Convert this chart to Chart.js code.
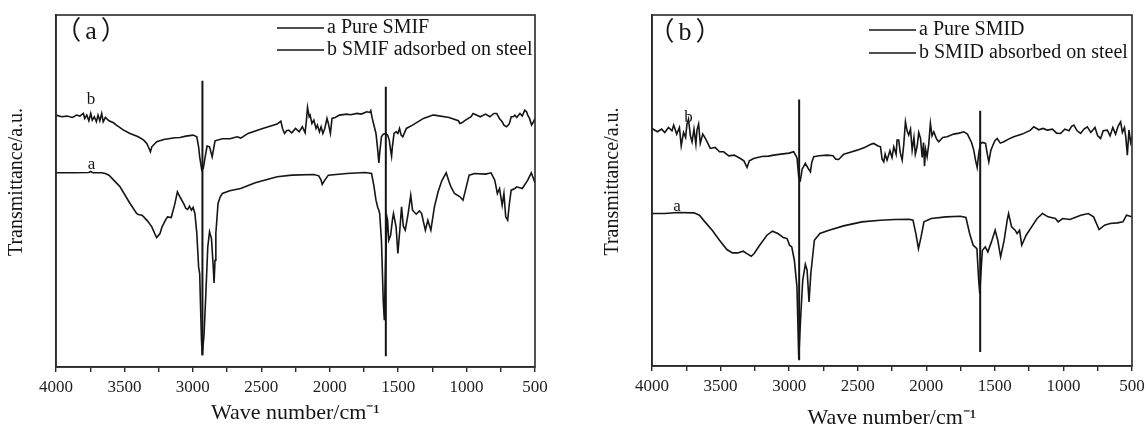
<!DOCTYPE html>
<html>
<head>
<meta charset="utf-8">
<script src="https://cdn.jsdelivr.net/npm/chart.js@4.4.1/dist/chart.umd.min.js"></script>
<style>
  body { margin: 0; background: #fff; }
  .wrap { display: flex; width: 1146px; height: 431px; }
  .panel { position: relative; width: 573px; height: 431px; }
</style>
</head>
<body>
<div class="wrap">
  <div class="panel"><canvas id="chartA"></canvas></div>
  <div class="panel"><canvas id="chartB"></canvas></div>
</div>
<script>
// x tick values (wave number, cm-1)
const majorTicks = [4000, 3500, 3000, 2500, 2000, 1500, 1000, 500];
const minorTicks = [3750, 3250, 2750, 2250, 1750, 1250, 750];

// panel (a): [wave number, transmittance a.u.]
const smifPure = [
  [4000,58.2],[3880,58.2],[3760,58.3],[3746,58.6],[3730,58.2],[3666,58.2],[3640,58.0],[3613,57.5],
  [3559,55.2],[3532,54.0],[3459,49.0],[3411,46.0],[3399,45.7],[3372,45.5],[3359,45.0],[3332,43.8],
  [3300,42.0],[3279,40.0],[3265,38.8],[3240,40.0],[3225,42.0],[3200,44.0],[3185,45.0],[3158,44.8],
  [3132,48.8],[3113,52.5],[3092,50.8],[3065,48.8],[3051,47.5],[3038,47.2],[3025,48.2],[3010,47.0],
  [2998,47.8],[2985,46.0],[2971,40.0],[2958,30.0],[2950,28.0],[2945,20.0],[2937,8.0],[2931,3.5],
  [2918,10.0],[2905,22.0],[2891,36.0],[2878,40.5],[2864,38.5],[2851,30.0],[2845,25.2],[2838,32.0],
  [2832,40.0],[2816,49.0],[2800,51.0],[2784,52.0],[2731,52.8],[2651,53.5],[2544,55.2],[2384,57.0],
  [2277,57.5],[2116,57.7],[2080,57.3],[2063,56.0],[2055,54.7],[2036,56.0],[2010,57.5],[1876,58.0],
  [1742,58.3],[1694,58.0],[1676,54.0],[1662,50.0],[1649,47.8],[1641,47.0],[1635,46.0],[1622,38.0],
  [1609,20.0],[1601,14.0],[1593,30.0],[1582,45.0],[1577,44.0],[1569,38.0],[1555,39.5],[1542,44.0],
  [1534,46.0],[1515,42.0],[1502,34.0],[1488,41.0],[1475,48.0],[1462,42.2],[1448,41.0],[1427,46.0],
  [1408,51.5],[1395,47.0],[1368,45.8],[1345,46.8],[1328,46.0],[1315,43.5],[1301,41.0],[1283,44.0],
  [1261,41.0],[1235,48.0],[1208,52.5],[1181,55.8],[1149,58.2],[1128,55.5],[1114,54.0],[1088,52.0],
  [1048,51.0],[1026,50.0],[1008,53.0],[981,57.5],[941,58.0],[861,57.8],[821,58.2],[794,56.0],
  [775,52.0],[759,53.5],[740,48.5],[727,52.0],[714,45.0],[700,44.0],[687,49.0],[674,53.0],
  [647,53.5],[634,54.0],[593,53.5],[553,56.0],[527,58.2],[500,55.2]
];
const smifSteel = [
  [4000,75.5],[3960,75.0],[3920,75.2],[3880,74.8],[3850,75.5],[3826,75.2],[3800,76.0],[3790,74.5],
  [3775,75.5],[3760,73.8],[3746,76.0],[3735,74.0],[3720,75.0],[3705,73.5],[3693,75.5],[3680,73.8],
  [3666,76.0],[3655,73.5],[3639,74.8],[3613,73.8],[3580,73.2],[3559,72.5],[3506,71.0],[3459,70.0],
  [3399,69.0],[3359,68.0],[3337,67.0],[3320,65.5],[3310,64.5],[3300,66.0],[3264,67.5],[3212,68.2],
  [3132,68.7],[3094,68.8],[3051,69.2],[2998,69.5],[2971,69.0],[2958,66.0],[2950,63.0],[2935,59.0],
  [2924,59.5],[2910,63.0],[2896,66.2],[2878,66.0],[2859,63.0],[2838,67.8],[2784,68.4],[2729,68.4],
  [2677,69.0],[2650,68.6],[2597,70.0],[2490,71.5],[2384,72.8],[2357,73.7],[2345,71.5],[2330,70.0],
  [2315,70.8],[2300,71.0],[2277,70.2],[2250,71.5],[2223,70.5],[2200,72.0],[2180,70.2],[2170,74.0],
  [2162,77.8],[2150,75.0],[2143,75.5],[2130,73.0],[2116,74.0],[2100,71.5],[2090,72.5],[2075,70.5],
  [2063,72.0],[2050,70.0],[2036,71.5],[2020,74.5],[2010,73.0],[1995,70.0],[1983,74.5],[1960,74.8],
  [1929,75.5],[1876,75.8],[1849,75.6],[1800,76.0],[1769,75.8],[1730,76.5],[1706,76.3],[1700,76.8],
  [1689,74.5],[1662,70.0],[1649,65.0],[1641,61.2],[1635,64.0],[1622,69.0],[1609,69.8],[1589,70.0],
  [1577,69.5],[1565,68.0],[1555,65.0],[1548,63.2],[1542,66.0],[1530,70.0],[1515,70.5],[1502,70.0],
  [1490,71.5],[1478,69.5],[1466,69.0],[1440,71.5],[1395,72.5],[1315,74.5],[1245,75.5],[1235,75.5],
  [1128,74.8],[1060,73.8],[1049,73.0],[1034,73.2],[1008,74.0],[967,75.0],[952,76.0],[900,75.0],
  [861,75.8],[830,75.0],[800,76.0],[780,76.0],[760,74.5],[740,73.5],[727,72.5],[708,72.0],
  [695,72.5],[687,73.0],[674,75.0],[660,75.0],[647,75.5],[634,74.8],[610,76.0],[593,75.2],
  [575,77.0],[562,76.5],[553,75.5],[540,74.5],[525,72.5],[515,73.2],[500,74.5]
];

// panel (b): [wave number, transmittance a.u.]
const smidPure = [
  [4000,45.7],[3907,45.7],[3814,46.0],[3694,45.9],[3654,45.2],[3614,43.2],[3561,40.7],[3508,37.7],
  [3454,34.9],[3414,33.9],[3375,33.9],[3335,34.4],[3308,33.7],[3276,32.9],[3255,33.7],[3215,36.2],
  [3162,39.2],[3122,40.4],[3082,39.7],[3042,38.5],[3015,38.2],[2997,36.2],[2981,35.7],[2962,31.7],
  [2943,23.7],[2930,2.2],[2917,13.7],[2901,25.7],[2882,30.5],[2869,28.7],[2855,19.2],[2842,27.7],
  [2816,37.7],[2776,39.7],[2709,40.7],[2603,42.0],[2470,43.2],[2336,43.7],[2230,43.9],[2124,44.0],
  [2097,43.7],[2076,39.7],[2057,35.2],[2038,38.7],[2017,43.2],[1964,44.2],[1857,44.7],[1751,44.9],
  [1711,44.5],[1684,39.7],[1658,36.2],[1631,35.2],[1618,25.7],[1610,21.7],[1599,29.7],[1591,34.7],
  [1570,35.7],[1551,34.2],[1525,37.2],[1498,40.7],[1479,37.7],[1458,32.7],[1432,37.7],[1410,43.7],
  [1400,45.7],[1378,41.7],[1352,40.7],[1338,39.7],[1320,40.7],[1304,36.2],[1272,39.2],[1232,41.7],
  [1192,44.2],[1152,45.7],[1112,44.7],[1059,44.2],[1038,43.2],[1006,44.2],[953,43.9],[873,45.2],
  [819,45.7],[780,44.7],[740,40.9],[700,42.2],[660,42.7],[606,42.9],[566,43.2],[540,45.2],[500,44.7]
];
const smidSteel = [
  [4000,71.2],[3960,70.2],[3930,71.0],[3907,70.0],[3880,71.5],[3854,70.5],[3842,72.2],[3820,69.5],
  [3800,71.5],[3787,66.0],[3770,70.0],[3755,68.5],[3745,72.5],[3734,74.0],[3720,69.0],[3708,67.2],
  [3694,71.0],[3680,66.5],[3672,70.7],[3660,72.5],[3648,66.7],[3630,69.5],[3611,68.2],[3590,66.5],
  [3575,65.2],[3540,65.5],[3508,64.2],[3478,64.2],[3440,63.0],[3400,63.2],[3356,62.2],[3330,61.5],
  [3307,59.5],[3290,61.5],[3259,62.2],[3200,62.8],[3150,62.9],[3113,63.2],[3060,63.5],[3000,63.8],
  [2967,64.2],[2950,63.0],[2942,62.2],[2930,56.5],[2918,55.7],[2905,59.0],[2882,60.7],[2865,59.5],
  [2845,58.2],[2835,61.0],[2821,62.7],[2780,63.0],[2723,63.2],[2680,63.0],[2660,62.0],[2639,61.9],
  [2602,63.5],[2560,64.0],[2504,64.7],[2450,65.5],[2400,66.5],[2383,66.7],[2355,66.0],[2334,65.7],
  [2322,62.0],[2310,61.2],[2300,63.5],[2286,61.7],[2265,64.5],[2250,62.5],[2237,65.7],[2220,63.5],
  [2213,67.7],[2201,67.7],[2190,64.0],[2176,61.7],[2165,66.0],[2152,73.2],[2140,70.5],[2128,69.2],
  [2115,71.0],[2103,64.7],[2090,68.5],[2080,63.5],[2067,65.7],[2055,70.0],[2042,68.2],[2030,62.5],
  [2020,67.0],[2013,59.9],[2005,65.0],[1994,62.7],[1982,66.5],[1970,72.7],[1958,69.0],[1945,70.2],
  [1925,68.0],[1909,67.2],[1880,68.5],[1848,68.7],[1800,69.5],[1760,69.8],[1727,70.2],[1700,69.5],
  [1690,68.7],[1670,67.0],[1654,64.7],[1640,61.5],[1629,59.5],[1618,63.5],[1605,66.7],[1590,67.0],
  [1568,66.7],[1555,63.5],[1544,61.2],[1530,64.5],[1519,65.7],[1500,67.5],[1483,68.2],[1460,66.8],
  [1435,67.2],[1400,68.0],[1362,68.7],[1300,69.5],[1240,70.7],[1216,71.7],[1180,70.8],[1150,71.2],
  [1118,70.7],[1080,71.0],[1050,69.8],[1021,69.7],[990,71.0],[960,70.5],[940,71.8],[924,72.2],
  [900,70.5],[875,69.7],[850,71.0],[826,71.7],[800,70.0],[770,71.5],[750,69.0],[729,68.2],
  [710,70.5],[680,70.7],[660,69.0],[640,71.5],[620,69.5],[600,72.0],[583,73.2],[570,70.0],
  [555,71.5],[545,68.5],[534,63.2],[522,70.7],[510,67.0],[500,68.7]
];

// vertical marker lines: [wave number, top, bottom]
const smifMarks = [[2930, 85.8, 3.5], [1590, 84.0, 3.2]];
const smidMarks = [[2927, 79.9, 1.7], [1607, 76.5, 4.2]];

const legendA = ['a Pure SMIF', 'b SMIF adsorbed on steel'];
const legendB = ['a Pure SMID', 'b SMID absorbed on steel'];
const yTitle = 'Transmittance/a.u.';

const SERIF = '"Liberation Serif", "Times New Roman", serif';
const SERIF_CJK = '"Liberation Serif", "Noto Sans CJK SC", serif';
const INK = '#151515';

const toPoints = arr => arr.map(p => ({ x: p[0], y: p[1] }));

const panelDecor = {
  id: 'panelDecor',
  afterDraw(chart, args, o) {
    const { ctx, chartArea: a, scales: { x, y } } = chart;
    ctx.save();
    ctx.strokeStyle = '#2a2a2a';
    ctx.lineWidth = 1.6;
    ctx.strokeRect(a.left, a.top, a.right - a.left, a.bottom - a.top);

    ctx.fillStyle = INK;
    ctx.textAlign = 'center';
    ctx.textBaseline = 'middle';

    // y axis title, sits a little above the middle in the original
    ctx.save();
    ctx.font = '20px ' + SERIF;
    ctx.translate(a.left - 39, (a.top + a.bottom) / 2 - 9);
    ctx.rotate(-Math.PI / 2);
    ctx.fillText(yTitle, 0, 0);
    ctx.restore();

    // panel letter, wide fullwidth brackets
    ctx.save();
    ctx.font = '26px ' + SERIF_CJK;
    ctx.letterSpacing = '4px';
    ctx.fillText(o.panel, a.left + o.panelDx + 2, a.top + o.panelDy);
    ctx.restore();

    ctx.font = '17px ' + SERIF;
    o.tags.forEach(t => {
      ctx.fillText(t.text, x.getPixelForValue(t.wave), y.getPixelForValue(t.level));
    });

    // legend with long line samples
    ctx.font = '20px ' + SERIF;
    ctx.textAlign = 'left';
    ctx.strokeStyle = INK;
    ctx.lineWidth = 1.5;
    o.legend.forEach((txt, i) => {
      const ly = a.top + o.legendTop + i * o.legendGap;
      ctx.beginPath();
      ctx.moveTo(o.legendX, ly);
      ctx.lineTo(o.legendX + 47, ly);
      ctx.stroke();
      ctx.fillText(txt, o.legendX + 50, ly);
    });
    ctx.restore();
  }
};

function makeChart(id, curves, marks, cfg) {
  const datasets = curves.map(c => ({
    data: toPoints(c),
    borderColor: INK,
    borderWidth: 1.6,
    pointRadius: 0,
    tension: 0
  }));
  marks.forEach(m => {
    datasets.push({
      data: [{ x: m[0], y: m[1] }, { x: m[0], y: m[2] }],
      borderColor: INK,
      borderWidth: 2,
      pointRadius: 0
    });
  });

  return new Chart(document.getElementById(id), {
    type: 'line',
    data: { datasets },
    plugins: [panelDecor],
    options: {
      responsive: true,
      maintainAspectRatio: false,
      animation: false,
      devicePixelRatio: 1,
      layout: { padding: { left: cfg.padLeft, right: cfg.padRight, top: 15, bottom: 0 } },
      plugins: {
        legend: { display: false },
        tooltip: { enabled: false },
        panelDecor: cfg.decor
      },
      scales: {
        x: {
          type: 'linear',
          reverse: true,
          min: 500,
          max: 4000,
          afterBuildTicks: s => {
            s.ticks = majorTicks.concat(minorTicks).sort((p, q) => p - q).map(v => ({ value: v }));
          },
          afterFit: s => { s.height = cfg.xHeight; },
          ticks: {
            autoSkip: false,
            maxRotation: 0,
            padding: 5,
            color: '#222',
            font: { family: SERIF, size: 17 },
            callback: v => (majorTicks.includes(v) ? String(v) : '')
          },
          grid: { drawOnChartArea: false, drawTicks: true, tickLength: 5, color: '#2a2a2a', lineWidth: 1.4 },
          border: { display: true, color: '#2a2a2a', width: 1.6 },
          title: {
            display: true,
            text: 'Wave number/cm\u207B\u00B9',
            color: INK,
            font: { family: SERIF, size: 22 },
            padding: { top: 0, bottom: cfg.xTitlePad }
          }
        },
        y: {
          min: 0,
          max: cfg.yMax,
          afterFit: s => { s.width = 56; },
          ticks: { display: false },
          grid: { display: false },
          border: { display: true, color: '#2a2a2a', width: 1.6 },
          title: { display: false }
        }
      }
    }
  });
}

makeChart('chartA', [smifPure, smifSteel], smifMarks, {
  padLeft: 0, padRight: 38, xHeight: 64, xTitlePad: 5, yMax: 105.5,
  decor: {
    panel: '\uFF08a\uFF09', panelDx: 35, panelDy: 17,
    tags: [{ text: 'b', wave: 3745, level: 80.2 }, { text: 'a', wave: 3740, level: 60.8 }],
    legend: legendA, legendX: 277, legendTop: 13, legendGap: 22
  }
});

makeChart('chartB', [smidPure, smidSteel], smidMarks, {
  padLeft: 23, padRight: 14, xHeight: 65, xTitlePad: 0, yMax: 105.2,
  decor: {
    panel: '\uFF08b\uFF09', panelDx: 33, panelDy: 18,
    tags: [{ text: 'b', wave: 3733, level: 74.5 }, { text: 'a', wave: 3818, level: 47.9 }],
    legend: legendB, legendX: 296, legendTop: 15, legendGap: 23
  }
});
</script>
</body>
</html>
